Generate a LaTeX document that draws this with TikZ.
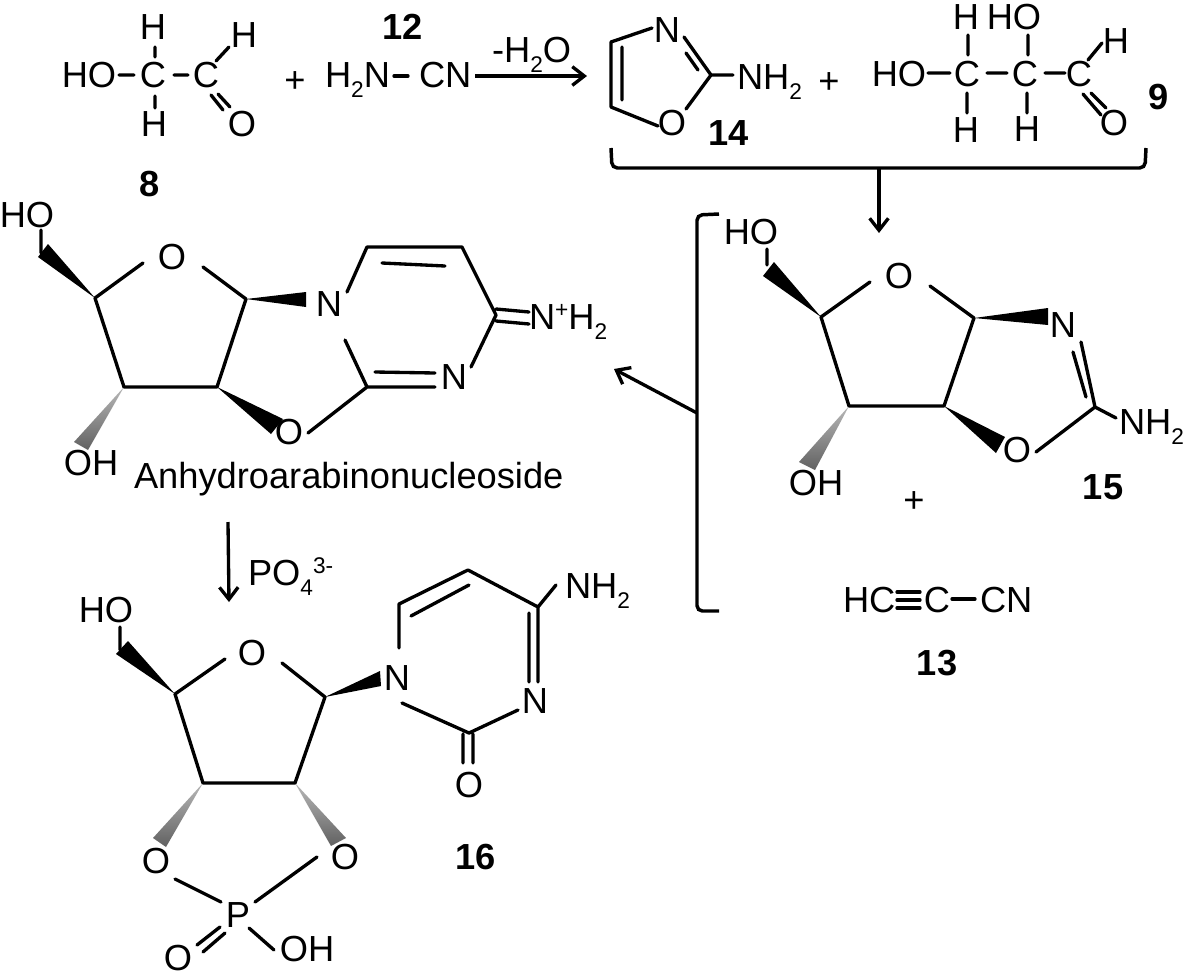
\documentclass[tikz,border=0pt]{standalone}
\usepackage{fontspec}
\setmainfont{Liberation Sans}
\usetikzlibrary{arrows.meta}
\newcommand\lowr[1]{\raisebox{-7pt}{\fontsize{17}{17}\selectfont #1}}
\newcommand\upr[1]{\raisebox{9pt}{\fontsize{17}{17}\selectfont #1}}
\tikzset{
  x=0.75pt,y=-0.75pt,
  lbl/.style={inner sep=0pt,outer sep=0pt,text height=19.4pt,text depth=0pt,font=\fontsize{27.2}{30}\selectfont},
  num/.style={lbl,font=\fontsize{27.2}{30}\selectfont\bfseries},
  bond/.style={line width=2.5pt,line cap=round,line join=round,black},
  wedge/.style={fill=black,draw=none},
  hashw/.style={top color=black!28,bottom color=black!62,draw=none},
  rxn/.style={line width=2.5pt,black,-{Straight Barb[length=9pt,width=14pt,line width=2.5pt]}},
  brack/.style={line width=2.6pt,black,rounded corners=4pt}
}
\begin{document}
\begin{tikzpicture}
\useasboundingbox[fill=white] (0,0) rectangle (1183,979);
% ---------- compound 8
\node[lbl] (ho8) at (89,75) {HO};
\node[lbl] (c8a) at (153,75) {C};
\node[lbl] (h8t) at (153,27) {H};
\node[lbl] (h8b) at (154,124) {H};
\node[lbl] (c8b) at (206,75) {C};
\node[lbl] (h8r) at (244,35) {H};
\node[lbl] (o8) at (242,124) {O};
\node[num] (n8) at (150,184) {8};
\node[lbl] (plusa) at (295,80) {+};
\draw[bond] (119,75)--(134,75) (174,75)--(188,75) (155,47)--(155,57) (155,96)--(155,108)
  (216,61)--(229,47) (211,95)--(223,110) (218,94)--(230,107);
% ---------- compound 12
\node[num] (n12) at (403,27) {12};
\node[lbl,anchor=west] (h2n) at (325,75) {H\lowr{2}N};
\node[lbl,anchor=west] (cn12) at (419,75) {CN};
\draw[bond] (394,76)--(408,76);
\node[lbl,anchor=west] (water) at (492,50) {-H\lowr{2}O};
\coordinate (ra) at (475,76);
\coordinate (rb) at (587,76);
\draw[rxn] (ra)--(rb);
% ---------- compound 14
\node[lbl] (n14a) at (667,30) {N};
\node[lbl] (o14) at (672,123) {O};
\node[lbl,anchor=west] (nh14) at (737,77) {NH\lowr{2}};
\node[num] (n14) at (729,133) {14};
\node[lbl] (plusb) at (829,81) {+};
\coordinate (c14) at (711,75);
\draw[bond] (652,28)--(611,42)--(611,107)--(658,126) (622,47)--(622,100)
  (684,37)--(c14)--(686,109) (686,53)--(698,70) (c14)--(733,75);
% ---------- compound 9
\node[lbl] (ho9) at (899,74) {HO};
\node[lbl] (c9a) at (967,74) {C};
\node[lbl] (h9a) at (966,17) {H};
\node[lbl] (ho9t) at (1014,17) {HO};
\node[lbl] (c9b) at (1025,74) {C};
\node[lbl] (h9b) at (966,130) {H};
\node[lbl] (h9c) at (1027,129) {H};
\node[lbl] (c9c) at (1079,74) {C};
\node[lbl] (h9d) at (1116,41) {H};
\node[lbl] (o9) at (1114,123) {O};
\node[num] (n9) at (1159,97) {9};
\draw[bond] (928,73)--(950,73) (987,73)--(1007,73) (1045,73)--(1065,73)
  (968,35)--(968,55) (967,93)--(967,113) (1028,35)--(1028,55) (1027,93)--(1027,113)
  (1088,60)--(1102,43) (1083,94)--(1101,115) (1091,93)--(1106,108);
% ---------- top bracket and arrow
\draw[brack] (611,148)--(612,168)--(1145,168)--(1146,148);
\coordinate (tb) at (879,168);
\coordinate (te) at (879,233);
\draw[rxn] (tb)--(te);
% ---------- compound 15 bracket
\draw[brack] (719,214)--(697,215)--(697,611)--(719,611);
\coordinate (la) at (697,413);
\coordinate (lb) at (614,369);
\draw[rxn] (la)--(lb);
% ---------- compound 15
\node[lbl] (ho15) at (751,232) {HO};
\node[lbl] (o15a) at (899,276) {O};
\node[lbl] (n15) at (1063,325) {N};
\node[lbl] (o15b) at (1017,450) {O};
\node[lbl] (oh15) at (816,483) {OH};
\node[lbl,anchor=west] (nh15) at (1119,422) {NH\lowr{2}};
\node[num] (n15l) at (1103,487) {15};
\node[lbl] (plusc) at (914,500) {+};
\coordinate (a1) at (821,317);
\coordinate (a2) at (849,406);
\coordinate (a3) at (944,406);
\coordinate (a4) at (974,318);
\coordinate (a5) at (1095,407);
\fill[wedge] (a1)--(763,276)--(774,262)--cycle;
\fill[wedge] (a4)--(1048,308)--(1048,325)--cycle;
\fill[wedge] (a3)--(1005,437)--(996,453)--cycle;
\shade[hashw] (a2)--(799,462)--(815,470)--cycle;
\draw[bond] (767,249)--(767,265) (870,282)--(a1)--(a2)--(a3)--(a4)--(930,286)
  (1081,342)--(a5)--(1036,452) (1073,352)--(1086,397) (a5)--(1116,418);
% ---------- compound 13
\node[lbl,anchor=west] (hc13) at (843,600) {HC};
\node[lbl] (c13) at (937,600) {C};
\node[lbl,anchor=west] (cn13) at (980,600) {CN};
\node[num] (n13) at (937,663) {13};
\draw[bond] (897,592)--(920,592) (897,600)--(920,600) (897,608)--(920,608) (952,599)--(975,599);
% ---------- anhydroarabinonucleoside
\node[lbl] (ho2) at (27,215) {HO};
\node[lbl] (o2a) at (172,257) {O};
\node[lbl] (n2a) at (329,304) {N};
\node[lbl] (o2b) at (289,432) {O};
\node[lbl] (oh2) at (91,463) {OH};
\node[lbl] (n2b) at (454,377) {N};
\node[lbl,anchor=west] (nh2) at (529,317) {N\upr{+}H\lowr{2}};
\node[lbl,anchor=west] (name) at (134,476) {Anhydroarabinonucleoside};
\coordinate (b1) at (95,298);
\coordinate (b2) at (124,387);
\coordinate (b3) at (217,387);
\coordinate (b4) at (246,299);
\coordinate (b5) at (367,387);
\coordinate (b6) at (367,247);
\coordinate (b7) at (462,247);
\coordinate (b8) at (496,315);
\fill[wedge] (b1)--(38,257)--(48,244)--cycle;
\fill[wedge] (b4)--(306,292)--(306,307)--cycle;
\fill[wedge] (b3)--(283,419)--(271,434)--cycle;
\shade[hashw] (b2)--(74,442)--(88,450)--cycle;
\draw[bond] (41,230)--(41,253) (143,263)--(b1)--(b2)--(b3)--(b4)--(203,267)
  (347,292)--(b6)--(b7)--(b8)--(471,367) (382,263)--(445,266)
  (496,309)--(529,312) (496,321)--(529,324)
  (345,340)--(b5)--(308,433) (b5)--(435,387) (375,372)--(435,373);
% ---------- arrow PO4
\coordinate (pa) at (228,522);
\coordinate (pb) at (229,602);
\draw[rxn] (pa)--(pb);
\node[lbl,anchor=west] (po4) at (248,573) {PO\lowr{4}\upr{3-}};
% ---------- compound 16
\node[lbl] (ho3) at (106,610) {HO};
\node[lbl] (o3a) at (252,653) {O};
\node[lbl] (n3a) at (397,678) {N};
\node[lbl] (n3b) at (535,701) {N};
\node[lbl,anchor=west] (nh3) at (565,586) {NH\lowr{2}};
\node[lbl] (o3b) at (469,785) {O};
\node[num] (n16) at (476,857) {16};
\node[lbl] (o3c) at (156,861) {O};
\node[lbl] (o3d) at (345,857) {O};
\node[lbl] (p3) at (238,915) {P};
\node[lbl] (oh3) at (307,949) {OH};
\node[lbl] (o3e) at (178,958) {O};
\coordinate (d1) at (175,694);
\coordinate (d2) at (203,783);
\coordinate (d3) at (295,783);
\coordinate (d4) at (325,697);
\coordinate (d5) at (399,604);
\coordinate (d6) at (468,570);
\coordinate (d7) at (538,607);
\coordinate (d8) at (469,733);
\fill[wedge] (d1)--(116,654)--(128,641)--cycle;
\fill[wedge] (d4)--(380,671)--(381,686)--cycle;
\shade[hashw] (d2)--(153,838)--(166,847)--cycle;
\shade[hashw] (d3)--(331,846)--(346,838)--cycle;
\draw[bond] (120,627)--(120,650) (225,659)--(d1)--(d2)--(d3)--(d4)--(282,663)
  (399,648)--(d5)--(d6)--(d7)--(556,585) (411,616)--(469,585)
  (529,613)--(529,682) (538,607)--(538,682)
  (518,710)--(d8)--(402,703) (463,734)--(463,763) (473,734)--(473,763)
  (175,879)--(221,902) (317,857)--(255,902) (249,928)--(274,950)
  (197,945)--(220,927) (203,952)--(225,933);
\end{tikzpicture}
\end{document}
